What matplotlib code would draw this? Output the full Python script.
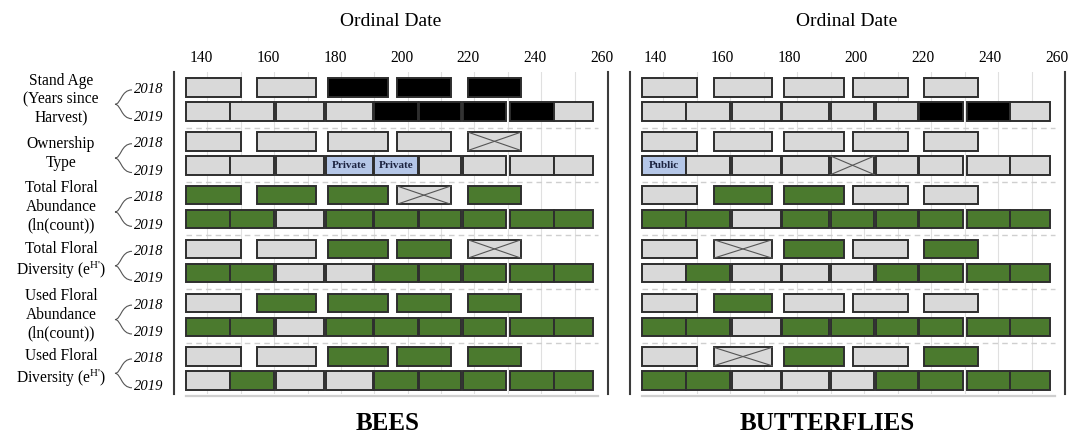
import numpy as np
import matplotlib
matplotlib.use("Agg")
import matplotlib.pyplot as plt
from matplotlib.path import Path
from matplotlib.patches import PathPatch
import matplotlib.transforms as mtransforms

plt.rcParams['font.family'] = ['Liberation Serif', 'DejaVu Serif']
plt.rcParams['mathtext.fontset'] = 'custom'
plt.rcParams['mathtext.rm'] = 'Liberation Serif'
plt.rcParams['mathtext.it'] = 'Liberation Serif:italic'

# sampling periods (ordinal date), one box per period
start_2018 = [133.5, 155.0, 176.0, 196.7, 218.0]
end_2018 = [150.0, 172.5, 194.0, 213.0, 234.0]
start_2019 = [133.5, 146.7, 160.5, 175.5, 190.0, 203.5, 216.5, 230.7, 243.7]
end_2019 = [146.7, 160.0, 175.0, 189.5, 203.0, 216.0, 229.5, 243.7, 255.5]

variables = ["Stand Age\n(Years since\nHarvest)",
             "Ownership\nType",
             "Total Floral\nAbundance\n(ln(count))",
             "Total Floral\nDiversity (e$^{\\mathrm{H}\\text{'}}$)",
             "Used Floral\nAbundance\n(ln(count))",
             "Used Floral\nDiversity (e$^{\\mathrm{H}\\text{'}}$)"]
years = ["2018", "2019"]

# g = not significant, G = significant, B = stand age effect,
# X = not tested, P = Private, U = Public
bees_2018 = ["ggBBB", "ggggX", "GGGXG", "ggGGX", "gGGGG", "ggGGG"]
bees_2019 = ["ggggBBBBg", "gggPPgggg", "GGgGGGGGG", "GGggGGGGG", "GGgGGGGGG", "gGggGGGGG"]
bfly_2018 = ["ggggg", "ggggg", "gGGgg", "gXGgG", "gGggg", "gXGgG"]
bfly_2019 = ["ggggggBBg", "UgggXgggg", "GGgGGGGGG", "gGgggGGGG", "GGgGGGGGG", "GGgggGGGG"]

fills = {'g': '#d9d9d9', 'G': '#4b7a2e', 'B': '#000000', 'X': '#d9d9d9',
         'P': '#b4c6e7', 'U': '#b4c6e7'}
words = {'P': 'Private', 'U': 'Public'}

group_step = 2.242
bar_h = 0.77
xticks = np.arange(140, 261, 20)

fig = plt.figure(figsize=(10.68, 4.33), dpi=100)
ax_b = fig.add_axes([174 / 1068, 1 - 394 / 433, 434 / 1068, 322 / 433])
ax_f = fig.add_axes([630 / 1068, 1 - 394 / 433, 435 / 1068, 322 / 433])


def draw_panel(ax, rows18, rows19, label_shift):
    for i in range(len(variables)):
        for j, (codes, starts, ends) in enumerate([(rows18[i], start_2018, end_2018),
                                                    (rows19[i], start_2019, end_2019)]):
            y = i * group_step + j
            for c, s, e in zip(codes, starts, ends):
                ax.barh(y, e - s, left=s, height=bar_h, color=fills[c],
                        edgecolor='#2e2e2e', linewidth=1.4, zorder=3)
                if c == 'X':
                    ax.plot([s, e], [y - bar_h / 2, y + bar_h / 2], color='#555555', lw=0.8, zorder=4)
                    ax.plot([s, e], [y + bar_h / 2, y - bar_h / 2], color='#555555', lw=0.8, zorder=4)
                if c in words:
                    ax.text((s + e) / 2, y, words[c], ha='center', va='center', fontsize=8,
                            fontweight='bold', color='#1c2340', zorder=5)
        if i < len(variables) - 1:
            ax.plot([133.5, 257], [i * group_step + 1.675] * 2, color='#cfcfcf', lw=1.0,
                    ls=(0, (4, 3)), zorder=1)
    ax.plot([133.5, 257], [(len(variables) - 1) * group_step + 1.65] * 2, color='#cfcfcf',
            lw=1.6, zorder=1, clip_on=False)

    ax.set_xlim(130, 260)
    ax.set_ylim(12.77, -0.646)
    ax.set_yticks([])
    ax.xaxis.tick_top()
    ax.set_xticks(xticks)
    ax.set_xticks(np.arange(140, 261, 10), minor=True)
    ax.tick_params(axis='x', which='both', length=0, pad=4, labelsize=11.2)
    ax.grid(axis='x', which='both', color='#e0e0e0', lw=0.8, zorder=0)
    ax.set_axisbelow(True)
    for side in ['top', 'bottom']:
        ax.spines[side].set_visible(False)
    for side in ['left', 'right']:
        ax.spines[side].set_color('#3c3c3c')
        ax.spines[side].set_linewidth(1.5)
    shift = mtransforms.ScaledTranslation(label_shift / 100, 0, fig.dpi_scale_trans)
    for lab in ax.get_xticklabels():
        lab.set_transform(lab.get_transform() + shift)


draw_panel(ax_b, bees_2018, bees_2019, -6)
draw_panel(ax_f, bfly_2018, bfly_2019, -8)

# left-hand labels, year tags and braces
tr = mtransforms.blended_transform_factory(fig.transFigure, ax_b.transData)
for i, name in enumerate(variables):
    y18 = i * group_step
    y19 = y18 + 1
    fig.text(61 / 1068, (y18 + y19) / 2, name, transform=tr, ha='center', va='center',
             fontsize=11.2, linespacing=1.22)
    fig.text(149 / 1068, y18 + 0.1, years[0], transform=tr, ha='center', va='center',
             fontsize=10.5, style='italic')
    fig.text(149 / 1068, y19 + 0.25, years[1], transform=tr, ha='center', va='center',
             fontsize=10.5, style='italic')
    xr, xm, xt = 132 / 1068, 121 / 1068, 115 / 1068
    yt, yb = y18 + 0.1, y19 + 0.3
    ym = (yt + yb) / 2
    verts = [(xr, yt), (xm, yt), (xm, ym), (xt, ym),
             (xm, ym), (xm, yb), (xr, yb)]
    codes = [Path.MOVETO, Path.CURVE4, Path.CURVE4, Path.CURVE4,
             Path.CURVE4, Path.CURVE4, Path.CURVE4]
    fig.add_artist(PathPatch(Path(verts, codes), transform=tr, fill=False,
                             edgecolor='#555555', lw=0.8))

fig.text(391 / 1068, 1 - 21.7 / 433, "Ordinal Date", ha='center', va='center', fontsize=14)
fig.text(847 / 1068, 1 - 21.7 / 433, "Ordinal Date", ha='center', va='center', fontsize=14)
fig.text(388 / 1068, 1 - 423 / 433, "BEES", ha='center', va='center', fontsize=18,
         fontweight='bold')
fig.text(827 / 1068, 1 - 423 / 433, "BUTTERFLIES", ha='center', va='center', fontsize=18,
         fontweight='bold')

fig.savefig("out.png", dpi=100)
